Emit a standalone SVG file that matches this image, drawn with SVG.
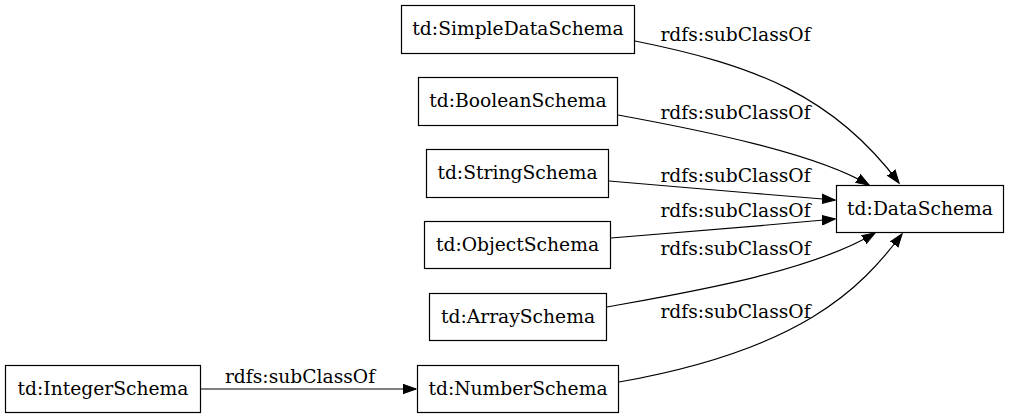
<svg xmlns="http://www.w3.org/2000/svg" width="1009" height="419" viewBox="0 0 1009 419">
<style>
.box{fill:#fff;stroke:#000;stroke-width:1.2}
.t{font-family:"DejaVu Serif",serif;font-size:18.7px;fill:#000;text-anchor:middle}
.e{fill:none;stroke:#000;stroke-width:1.2}
</style>
<defs>
<marker id="ah" markerUnits="userSpaceOnUse" markerWidth="16" markerHeight="12" refX="13" refY="0" viewBox="0 -6 16 12" orient="auto">
<path d="M0,-4.7 L13.3,0 L0,4.7 z" fill="#000" stroke="#000" stroke-width="1"/>
</marker>
</defs>
<rect width="1009" height="419" fill="#fff"/>
<g id="connectors">
<path class="e" d="M635,41 C755,65 834,96 899,183" marker-end="url(#ah)"/>
<text class="t" x="735.5" y="41">rdfs:subClassOf</text>
<path class="e" d="M618,115 C700,130 815,153 869,185" marker-end="url(#ah)"/>
<text class="t" x="735.5" y="119">rdfs:subClassOf</text>
<path class="e" d="M609,181 C680,187 760,194 835,200" marker-end="url(#ah)"/>
<text class="t" x="735.5" y="182">rdfs:subClassOf</text>
<path class="e" d="M611,238 C680,232 760,226 835,219" marker-end="url(#ah)"/>
<text class="t" x="735.5" y="217">rdfs:subClassOf</text>
<path class="e" d="M607,307 C690,292 810,272 875,233" marker-end="url(#ah)"/>
<text class="t" x="735.5" y="255">rdfs:subClassOf</text>
<path class="e" d="M619,382 C800,350 860,290 902,234" marker-end="url(#ah)"/>
<text class="t" x="735.5" y="318">rdfs:subClassOf</text>
<path class="e" d="M201,389 L416,389" marker-end="url(#ah)"/>
<text class="t" x="300" y="383">rdfs:subClassOf</text>
</g>
<g id="simpleDataSchema"><rect class="box" x="401.5" y="5.5" width="233" height="48"/><text class="t" x="518" y="35">td:SimpleDataSchema</text></g>
<g id="booleanSchema"><rect class="box" x="418.5" y="77.5" width="199" height="48"/><text class="t" x="518" y="107">td:BooleanSchema</text></g>
<g id="stringSchema"><rect class="box" x="426.5" y="149.5" width="182" height="48"/><text class="t" x="517.5" y="179">td:StringSchema</text></g>
<g id="objectSchema"><rect class="box" x="424.5" y="221.5" width="186" height="47"/><text class="t" x="517.5" y="251">td:ObjectSchema</text></g>
<g id="arraySchema"><rect class="box" x="429.5" y="293.5" width="177" height="47"/><text class="t" x="518" y="323">td:ArraySchema</text></g>
<g id="numberSchema"><rect class="box" x="417.5" y="365.5" width="201" height="47"/><text class="t" x="518" y="395">td:NumberSchema</text></g>
<g id="integerSchema"><rect class="box" x="5.5" y="365.5" width="195" height="47"/><text class="t" x="103" y="395">td:IntegerSchema</text></g>
<g id="dataSchema"><rect class="box" x="836.5" y="185.5" width="167" height="47"/><text class="t" x="920" y="215">td:DataSchema</text></g>
</svg>
